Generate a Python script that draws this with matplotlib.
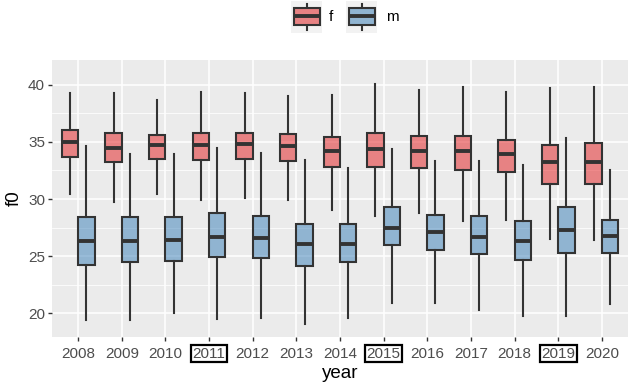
import matplotlib.pyplot as plt
from matplotlib.colors import to_rgba
from matplotlib.patches import Rectangle

plt.rcParams['font.family'] = ['Liberation Sans', 'DejaVu Sans']

years = ['2008', '2009', '2010', '2011', '2012', '2013', '2014',
         '2015', '2016', '2017', '2018', '2019', '2020']
boxed_years = ['2011', '2015', '2019']

# f group: lower whisker, q1, median, q3, upper whisker
f_lo = [30.4, 29.7, 30.4, 29.9, 30.1, 29.9, 29.0, 28.5, 28.8, 28.1, 28.2, 26.5, 26.4]
f_q1 = [33.7, 33.2, 33.5, 33.4, 33.5, 33.3, 32.8, 32.8, 32.7, 32.5, 32.4, 31.3, 31.3]
f_med = [35.0, 34.5, 34.7, 34.7, 34.8, 34.6, 34.2, 34.4, 34.2, 34.2, 33.9, 33.2, 33.2]
f_q3 = [36.0, 35.8, 35.6, 35.8, 35.8, 35.7, 35.4, 35.8, 35.5, 35.5, 35.2, 34.7, 34.9]
f_hi = [39.3, 39.3, 38.7, 39.4, 39.3, 39.0, 39.1, 40.1, 39.5, 39.8, 39.4, 39.7, 39.8]

# m group
m_lo = [19.4, 19.4, 20.0, 19.5, 19.6, 19.1, 19.6, 20.9, 20.9, 20.3, 19.8, 19.8, 20.8]
m_q1 = [24.2, 24.5, 24.6, 24.9, 24.8, 24.1, 24.5, 26.0, 25.5, 25.2, 24.7, 25.3, 25.3]
m_med = [26.3, 26.3, 26.4, 26.7, 26.6, 26.1, 26.1, 27.5, 27.1, 26.7, 26.3, 27.3, 26.8]
m_q3 = [28.4, 28.4, 28.4, 28.8, 28.5, 27.8, 27.8, 29.3, 28.6, 28.5, 28.1, 29.3, 28.2]
m_hi = [34.6, 33.9, 33.9, 34.5, 34.0, 33.4, 32.7, 34.4, 33.3, 33.3, 33.0, 35.3, 32.5]

groups = ['f', 'm']
colors = {'f': '#E41A1C', 'm': '#377EB8'}
panel_bg = '#EBEBEB'
edge = '#333333'


def make_stats(lo, q1, med, q3, hi):
    return [dict(whislo=a, q1=b, med=c, q3=d, whishi=e, fliers=[])
            for a, b, c, d, e in zip(lo, q1, med, q3, hi)]


fig = plt.figure(figsize=(6.3, 3.86), dpi=100)
ax = fig.add_axes([52 / 630, 1 - 337 / 386, 576 / 630, 277 / 386])
ax.set_facecolor(panel_bg)

width = 0.375
pos = list(range(len(years)))
data = {
    'f': make_stats(f_lo, f_q1, f_med, f_q3, f_hi),
    'm': make_stats(m_lo, m_q1, m_med, m_q3, m_hi),
}
for g in groups:
    offset = -width / 2 if g == 'f' else width / 2
    ax.bxp(data[g], positions=[p + offset for p in pos], widths=width,
           patch_artist=True, showcaps=False, showfliers=False,
           boxprops=dict(facecolor=to_rgba(colors[g], 0.5), edgecolor=edge, linewidth=1.5),
           whiskerprops=dict(color=edge, linewidth=1.5),
           medianprops=dict(color=edge, linewidth=2.8, solid_capstyle='butt'),
           zorder=3)

ax.set_xlim(-0.6, len(years) - 0.4)
ax.set_ylim(17.93, 42.16)
ax.set_xticks(pos)
ax.set_xticklabels(years)
ax.set_yticks([20, 25, 30, 35, 40])
ax.set_yticks([22.5, 27.5, 32.5, 37.5], minor=True)
ax.grid(which='major', color='white', linewidth=1.1, zorder=0)
ax.grid(which='minor', axis='y', color='white', linewidth=0.55, zorder=0)
ax.set_axisbelow(True)
for s in ax.spines.values():
    s.set_visible(False)
ax.tick_params(which='major', length=3, width=1, color='#333333',
               labelcolor='#4D4D4D', labelsize=11, pad=2)
ax.tick_params(axis='x', which='major', pad=4)
ax.tick_params(which='minor', length=0)

for lab in ax.get_xticklabels():
    if lab.get_text() in boxed_years:
        lab.set_bbox(dict(boxstyle='square,pad=0.1', fc='none', ec='black', lw=1.6))

ax.set_xlabel('year', fontsize=13.5, labelpad=3)
ax.set_ylabel('f0', fontsize=13.5, labelpad=4)

# legend at top
lax = fig.add_axes([0, 1 - 34 / 386, 1, 34 / 386])
lax.set_xlim(0, 630)
lax.set_ylim(34, 0)
lax.axis('off')
key_x = {'f': 291, 'm': 346}
lab_x = {'f': 329, 'm': 386}
for g in groups:
    x0 = key_x[g]
    lax.add_patch(Rectangle((x0, 1), 31, 32, facecolor='#F2F2F2', edgecolor='none'))
    cx = x0 + 15.5
    lax.plot([cx, cx], [3.5, 30], color=edge, lw=1.5)
    lax.add_patch(Rectangle((x0 + 2.5, 7.5), 26, 17.5, facecolor=panel_bg,
                            edgecolor='none', zorder=2))
    lax.add_patch(Rectangle((x0 + 2.5, 7.5), 26, 17.5, facecolor=to_rgba(colors[g], 0.5),
                            edgecolor=edge, lw=1.5, zorder=3))
    lax.plot([x0 + 2.5, x0 + 28.5], [16.2, 16.2], color=edge, lw=2.8, zorder=4,
             solid_capstyle='butt')
    lax.text(lab_x[g], 17, g, fontsize=11, color='black', va='center', ha='left')

fig.savefig('out.png', dpi=100)
